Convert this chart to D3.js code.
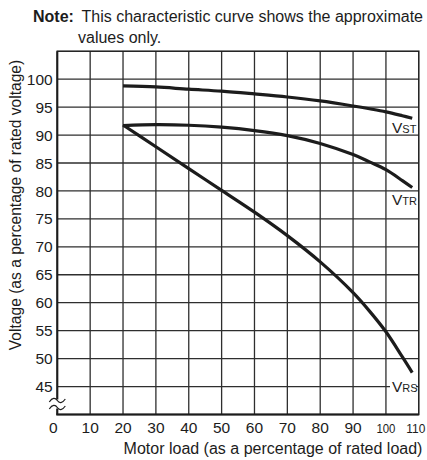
<!DOCTYPE html>
<html>
<head>
<meta charset="utf-8">
<script src="https://cdn.jsdelivr.net/npm/d3@7"></script>
<style>
  html, body { margin: 0; padding: 0; background: #fff; }
  svg { display: block; font-family: "Liberation Sans", Arial, Helvetica, sans-serif; }
</style>
</head>
<body>
<svg id="chart" width="427" height="460"></svg>
<script>
// ---- data ----
const loads = [20, 30, 40, 50, 60, 70, 80, 90, 95, 100, 105, 108];
const vST = [98.8, 98.6, 98.2, 97.85, 97.35, 96.8, 96.1, 95.2, 94.7, 94.15, 93.45, 93.0];
const vTR = [91.7, 91.85, 91.75, 91.4, 90.8, 89.9, 88.5, 86.5, 85.2, 83.8, 81.85, 80.6];
const vRS = [91.8, 87.9, 84.0, 80.1, 76.2, 72.0, 67.3, 61.8, 58.5, 54.8, 50.3, 47.5];
const seriesNames = [["V", "ST"], ["V", "TR"], ["V", "RS"]];
const xTicks = [0, 10, 20, 30, 40, 50, 60, 70, 80, 90, 100, 110];
const yTicks = [45, 50, 55, 60, 65, 70, 75, 80, 85, 90, 95, 100];
const xTitle = "Motor load (as a percentage of rated load)";
const yTitle = "Voltage (as a percentage of rated voltage)";
const noteBold = "Note:";
const noteLine1 = "This characteristic curve shows the approximate";
const noteLine2 = "values only.";

const svg = d3.select("#chart");
const x = d3.scaleLinear().domain([0, 110]).range([57.3, 418.8]);
const y = d3.scaleLinear().domain([40, 105]).range([414.5, 51.2]);
const ink = "#1c1c1c";

// grid
const g = svg.append("g");
g.selectAll("line.v").data(xTicks.slice(1, -1)).join("line")
  .attr("x1", d => x(d)).attr("x2", d => x(d))
  .attr("y1", y(105)).attr("y2", y(40))
  .attr("stroke", "#2e2e2e").attr("stroke-width", 1.3);
g.selectAll("line.h").data(yTicks).join("line")
  .attr("x1", x(0)).attr("x2", x(110))
  .attr("y1", d => y(d)).attr("y2", d => y(d))
  .attr("stroke", "#2e2e2e").attr("stroke-width", 1.3);

// frame
g.append("rect").attr("x", x(0)).attr("y", y(105))
  .attr("width", x(110) - x(0)).attr("height", y(40) - y(105))
  .attr("fill", "none").attr("stroke", ink).attr("stroke-width", 1.5);
g.append("line").attr("x1", x(0)).attr("x2", x(0)).attr("y1", y(105)).attr("y2", y(40))
  .attr("stroke", ink).attr("stroke-width", 2);
g.append("line").attr("x1", x(0) - 1).attr("x2", x(110)).attr("y1", y(40)).attr("y2", y(40))
  .attr("stroke", ink).attr("stroke-width", 2);

// axis break symbol
const bx = x(0), by1 = 400.5, by2 = 407.5;
svg.append("rect").attr("x", bx - 3).attr("y", by1 - 1).attr("width", 6).attr("height", by2 - by1 + 2).attr("fill", "#fff");
[by1, by2].forEach(yy => {
  svg.append("path")
    .attr("d", `M${bx - 8},${yy + 1.5} C${bx - 5},${yy - 3} ${bx - 2},${yy - 3} ${bx},${yy} S${bx + 5},${yy + 3} ${bx + 8},${yy - 1.5}`)
    .attr("fill", "none").attr("stroke", ink).attr("stroke-width", 1.2);
});

// tick labels
svg.selectAll("text.yt").data(yTicks).join("text")
  .attr("x", 52.7).attr("y", d => y(d)).attr("dy", "0.36em")
  .attr("text-anchor", "end").attr("font-size", 15.5).attr("fill", ink)
  .text(d => d);
svg.selectAll("text.xt").data(xTicks).join("text")
  .attr("x", d => x(d) + (d === 0 ? -4 : d === 110 ? -3 : 0)).attr("y", 432.7)
  .attr("text-anchor", "middle")
  .attr("font-size", d => d >= 100 ? 13.5 : 15.5)
  .attr("textLength", d => d >= 100 ? 19 : null)
  .attr("lengthAdjust", "spacingAndGlyphs")
  .attr("fill", ink)
  .text(d => d);

// axis titles
svg.append("text").attr("x", 273).attr("y", 453.5).attr("text-anchor", "middle")
  .attr("font-size", 16).attr("fill", ink).text(xTitle);
svg.append("text").attr("transform", "translate(21,205) rotate(-90)")
  .attr("text-anchor", "middle").attr("font-size", 15.6).attr("fill", ink).text(yTitle);

// note
svg.append("text").attr("x", 33).attr("y", 22).attr("font-size", 16).attr("font-weight", "bold")
  .attr("fill", ink).text(noteBold);
svg.append("text").attr("x", 81.5).attr("y", 22).attr("font-size", 16).attr("fill", ink).text(noteLine1);
svg.append("text").attr("x", 78).attr("y", 43).attr("font-size", 16).attr("fill", ink).text(noteLine2);

// curves
const line = d3.line().x(d => x(d[0])).y(d => y(d[1])).curve(d3.curveCatmullRom.alpha(0.5));
[vST, vTR, vRS].forEach(vals => {
  svg.append("path").datum(loads.map((l, i) => [l, vals[i]]))
    .attr("d", line).attr("fill", "none").attr("stroke", ink)
    .attr("stroke-width", 3.2).attr("stroke-linecap", "butt");
});

// series labels
const labelPos = [[392, 133.3], [392, 205], [392, 391.7]];
seriesNames.forEach((nm, i) => {
  const [lx, ly] = labelPos[i];
  if (i === 2) {
    svg.append("rect").attr("x", lx - 2).attr("y", ly - 13).attr("width", 26).attr("height", 15).attr("fill", "#fff");
  }
  const t = svg.append("text").attr("x", lx).attr("y", ly).attr("fill", ink);
  t.append("tspan").attr("font-size", 15.5).text(nm[0]);
  t.append("tspan").attr("font-size", 11).text(nm[1]);
});
</script>
</body>
</html>
